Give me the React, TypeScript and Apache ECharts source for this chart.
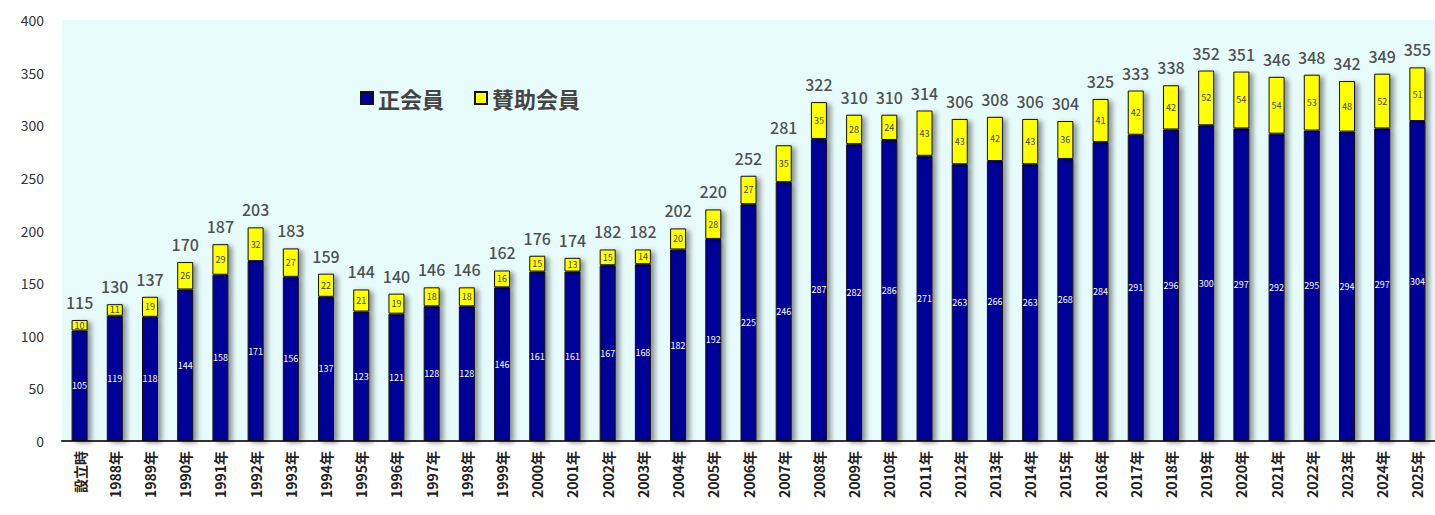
import React, { useEffect, useRef } from "react";
import * as echarts from "echarts";

const categories = [
  "設立時", "1988年", "1989年", "1990年", "1991年", "1992年", "1993年", "1994年", "1995年", "1996年",
  "1997年", "1998年", "1999年", "2000年", "2001年", "2002年", "2003年", "2004年", "2005年", "2006年",
  "2007年", "2008年", "2009年", "2010年", "2011年", "2012年", "2013年", "2014年", "2015年", "2016年",
  "2017年", "2018年", "2019年", "2020年", "2021年", "2022年", "2023年", "2024年", "2025年",
];

const regularMembers = [
  105, 119, 118, 144, 158, 171, 156, 137, 123, 121,
  128, 128, 146, 161, 161, 167, 168, 182, 192, 225,
  246, 287, 282, 286, 271, 263, 266, 263, 268, 284,
  291, 296, 300, 297, 292, 295, 294, 297, 304,
];

const supportingMembers = [
  10, 11, 19, 26, 29, 32, 27, 22, 21, 19,
  18, 18, 16, 15, 13, 15, 14, 20, 28, 27,
  35, 35, 28, 24, 43, 43, 42, 43, 36, 41,
  42, 42, 52, 54, 54, 53, 48, 52, 51,
];

const yTicks = { min: 0, max: 400, interval: 50 };

const FONT = "'Noto Sans CJK JP', 'Noto Sans', sans-serif";

export default function App() {
  const ref = useRef<HTMLDivElement>(null);
  useEffect(() => {
    if (!ref.current) return;
    const chart = echarts.init(ref.current, undefined, { renderer: "svg" });
    const totals = regularMembers.map((v, i) => v + supportingMembers[i]);
    const shadow = {
      shadowColor: "rgba(0,0,0,0.4)",
      shadowBlur: 5,
      shadowOffsetX: 4,
      shadowOffsetY: 2,
    };
    chart.setOption({
      animation: false,
      textStyle: { fontFamily: FONT },
      legend: {
        data: ["正会員", "賛助会員"],
        left: 355,
        top: 82,
        itemWidth: 12,
        itemHeight: 12,
        itemGap: 30,
        icon: "rect",
        textStyle: { fontSize: 22, color: "#444", fontWeight: "bold", fontFamily: FONT },
      },
      grid: {
        left: 62,
        right: 0,
        top: 20,
        bottom: 74,
        show: true,
        backgroundColor: "#E8FBFB",
        borderWidth: 0,
      },
      xAxis: {
        type: "category",
        data: categories,
        axisLine: { lineStyle: { color: "#333", width: 2 } },
        axisTick: { show: false },
        axisLabel: {
          rotate: 90,
          interval: 0,
          fontSize: 14,
          fontWeight: "bold",
          color: "#222",
          margin: 10,
        },
      },
      yAxis: {
        type: "value",
        min: yTicks.min,
        max: yTicks.max,
        interval: yTicks.interval,
        axisLine: { show: false },
        axisTick: { show: false },
        splitLine: { show: false },
        axisLabel: { fontSize: 14, color: "#333", margin: 18 },
      },
      series: [
        {
          name: "正会員",
          type: "bar",
          stack: "total",
          barWidth: 16,
          data: regularMembers,
          itemStyle: { color: "#000099", borderColor: "#111", borderWidth: 1, ...shadow },
          label: { show: true, position: "inside", color: "#fff", fontSize: 9 },
        },
        {
          name: "賛助会員",
          type: "bar",
          stack: "total",
          barWidth: 16,
          data: supportingMembers,
          itemStyle: { color: "#FFFF00", borderColor: "#111", borderWidth: 1, ...shadow },
          label: { show: true, position: "inside", color: "#444", fontSize: 9 },
        },
        {
          name: "合計",
          type: "scatter",
          data: totals,
          symbolSize: 0,
          silent: true,
          label: {
            show: true,
            position: "top",
            distance: 10,
            color: "#222",
            fontSize: 16,
            fontWeight: 500,
          },
        },
      ],
    });
    return () => chart.dispose();
  }, []);
  return (
    <div
      ref={ref}
      style={{ position: "fixed", left: 0, top: 0, width: 1435, height: 515, background: "#fff" }}
    />
  );
}
